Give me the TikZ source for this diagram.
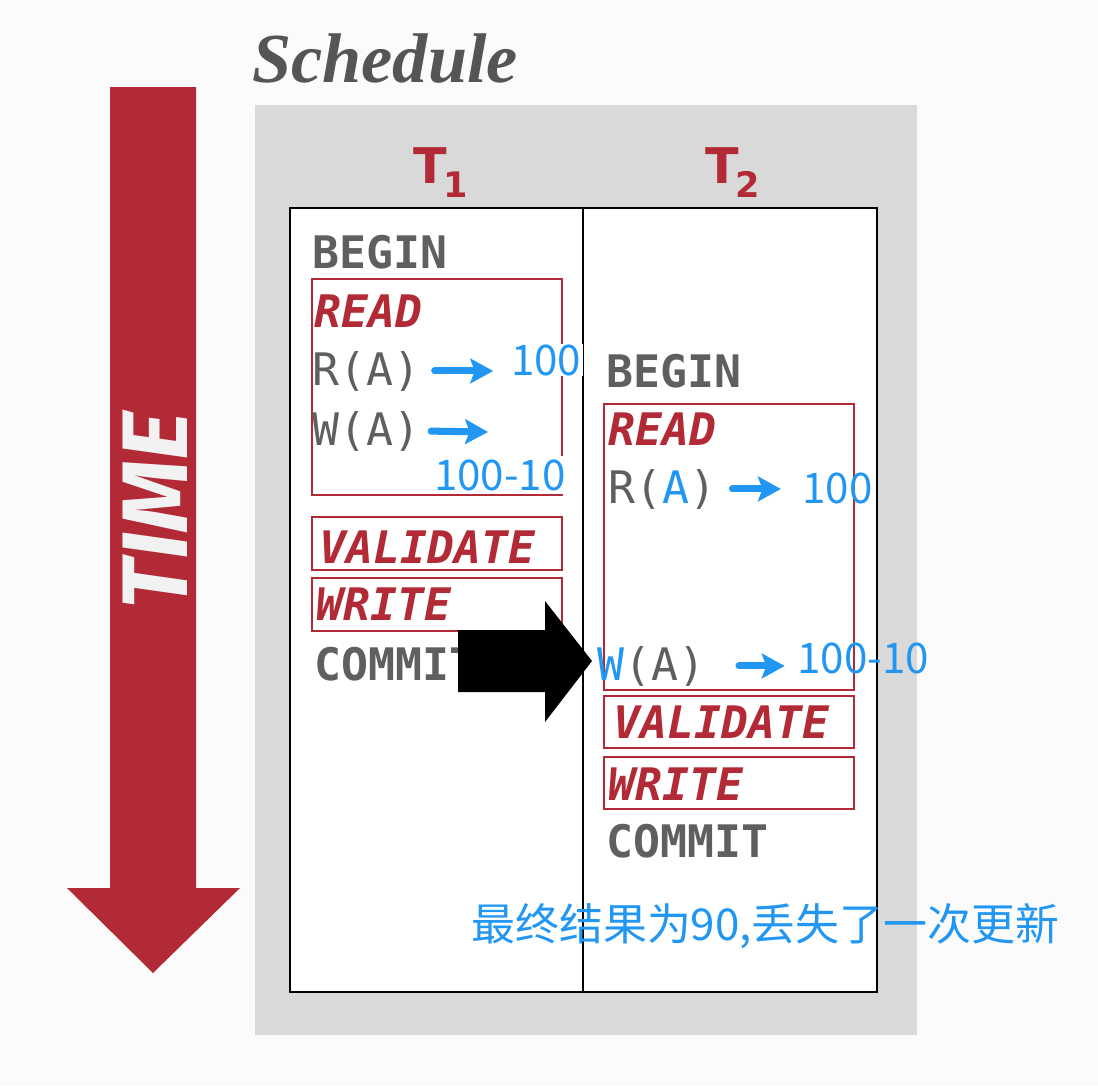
\documentclass[tikz,border=0pt]{standalone}
\usepackage{fontspec}
\usepackage{xcolor}
\usepackage{tikz}
\usetikzlibrary{arrows.meta,positioning,calc}
\newfontfamily\monofont{DejaVu Sans Mono}
\newfontfamily\labelfont{DejaVu Sans}
\newfontfamily\titlefont{Liberation Serif}
\newfontfamily\timefont{Fira Sans}
\newfontfamily\cjkfont{Noto Sans CJK SC}
\definecolor{schred}{HTML}{B22A35}
\definecolor{txtgray}{HTML}{5F5F5F}
\definecolor{valblue}{HTML}{2196F3}
\definecolor{panelgray}{HTML}{D9D9D9}
\definecolor{pagebg}{HTML}{FBFBFB}
\definecolor{titlegray}{HTML}{555555}
\definecolor{timewhite}{HTML}{F2F2F2}
\newcommand{\tsub}[1]{\kern-2pt\raisebox{-8.5pt}{\fontsize{20}{20}\selectfont#1}}
\newcommand{\hl}[1]{\textcolor{valblue}{#1}}

\begin{document}
\begin{tikzpicture}[x=0.02cm,y=-0.02cm,
  kw/.style={inner sep=0pt,anchor=base west,text=txtgray,font=\monofont\bfseries\fontsize{25.5}{30}\selectfont},
  op/.style={inner sep=0pt,anchor=base west,text=txtgray,font=\monofont\fontsize{25.5}{30}\selectfont},
  phase/.style={inner sep=0pt,anchor=base west,text=schred,font=\monofont\bfseries\itshape\fontsize{25.5}{30}\selectfont},
  phasebox/.style={draw=schred,line width=1pt},
  val/.style={inner sep=0pt,anchor=base west,text=valblue,font=\cjkfont\fontsize{24}{28}\selectfont},
  txn/.style={inner sep=0pt,anchor=base west,text=schred,font=\labelfont\bfseries\fontsize{28}{30}\selectfont},
  flow/.style={draw=valblue,line width=4pt,line cap=round,-{Stealth[length=13pt,width=14pt,inset=2.5pt]}}]
\fill[pagebg] (0,0) rectangle (1098,1086);
\useasboundingbox (0,0) rectangle (1098,1086);
\fill[panelgray] (255,105) rectangle (917,1035);
\node[inner sep=0pt,anchor=base west,text=titlegray,font=\titlefont\bfseries\itshape\fontsize{40}{42}\selectfont] (sched) at (252,82) {Schedule};
% time axis
\fill[schred] (110,87) -- (196,87) -- (196,888) -- (240,888) -- (153,973) -- (67,888) -- (110,888) -- cycle;
\node[rotate=90,inner sep=0pt,text=timewhite,font=\timefont\bfseries\itshape\fontsize{53}{53}\selectfont] (time) at (155,511) {TIME};
\draw[fill=white,line width=1.2pt] (290,208) rectangle (877,992);
\draw[line width=1.2pt] (583,208) -- (583,992);
\node[txn] (t1) at (413,183) {T\tsub{1}};
\node[txn] (t2) at (705,183) {T\tsub{2}};
% T1
\node[kw] (begin1) at (312,268) {BEGIN};
\draw[phasebox] (312,279) rectangle (562,495);
\node[phase] (read1) at (314,327) {READ};
\node[op] (r1) at (312,385) {R(A)};
\node[op] (w1) at (312,445) {W(A)};
\node[val,fill=white,inner xsep=1pt] (v1) at (509,375) {100};
\node[val,fill=white,inner xsep=1pt,inner ysep=2pt] (v2) at (432,490) {100-10};
\coordinate (w1end) at (488,432);
\draw[flow,shorten <=8pt,shorten >=9pt] (r1.east) -- (r1.east -| v1.west);
\draw[flow,shorten <=6pt] (w1.east) -- (w1end);
\draw[phasebox] (312,517) rectangle (562,570);
\node[phase] (val1) at (319,563) {VALIDATE};
\draw[phasebox] (312,578) rectangle (562,631);
\node[phase] (wr1) at (316,620) {WRITE};
\node[kw] (commit1) at (314,680) {COMMIT};
\fill (458,630) -- (545,630) -- (545,601) -- (592,661) -- (545,722) -- (545,692) -- (458,692) -- cycle;
% T2
\node[kw] (begin2) at (606,387) {BEGIN};
\draw[phasebox] (604,404) rectangle (854,690);
\node[phase] (read2) at (608,445) {READ};
\node[op] (r2) at (608,503) {R(\hl{A})};
\node[op] (w2) at (597,680) {\hl{W}(A)};
\node[val] (v3) at (802,503) {100};
\node[val] (v4) at (797,673) {100-10};
\draw[flow,shorten <=9pt,shorten >=12pt] (r2.east) -- (r2.east -| v3.west);
\draw[flow,shorten <=19pt,shorten >=7pt] (w2.east) -- (w2.east -| v4.west);
\draw[phasebox] (604,696) rectangle (854,748);
\node[phase] (val2) at (613,738) {VALIDATE};
\draw[phasebox] (604,757) rectangle (854,809);
\node[phase] (wr2) at (608,800) {WRITE};
\node[kw] (commit2) at (606,857) {COMMIT};
\node[val,font=\cjkfont\fontsize{25}{28}\selectfont] (lost) at (471,940) {最终结果为90,丢失了一次更新};
\end{tikzpicture}
\end{document}
